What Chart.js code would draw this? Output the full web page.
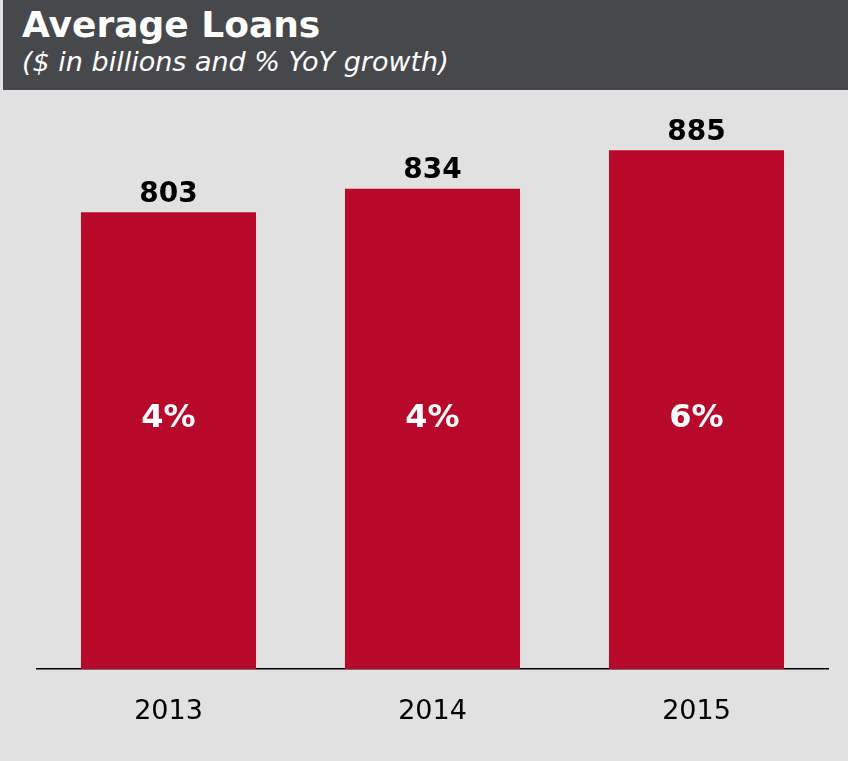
<!DOCTYPE html>
<html>
<head>
<meta charset="utf-8">
<script src="https://cdn.jsdelivr.net/npm/chart.js@4.4.1/dist/chart.umd.min.js"></script>
<style>
  html, body { margin: 0; padding: 0; }
  body { width: 848px; height: 761px; background: #e0e1e0; position: relative; overflow: hidden; font-family: "DejaVu Sans", Verdana, sans-serif; }
  #header { position: absolute; left: 3px; top: 0; width: 845px; height: 90px; background: #47484c; color: #fff; }
  #title { position: absolute; left: 19px; top: 3px; font-size: 36px; font-weight: bold; line-height: 44px; white-space: nowrap; }
  #subtitle { position: absolute; left: 19px; top: 45px; font-size: 27px; font-style: italic; line-height: 34px; white-space: nowrap; }
  #wrap { position: absolute; left: 0; top: 90px; width: 848px; height: 671px; }
</style>
</head>
<body>
<div id="header">
  <div id="title">Average Loans</div>
  <div id="subtitle">($ in billions and % YoY growth)</div>
</div>
<div id="wrap"><canvas id="c" width="848" height="671"></canvas></div>
<script>
const categories = ["2013", "2014", "2015"];
const loans = [803, 834, 885];
const growth = ["4%", "4%", "6%"];

const labelPlugin = {
  id: 'labels',
  afterDatasetsDraw(chart) {
    const ctx = chart.ctx;
    const meta = chart.getDatasetMeta(0);
    const area = chart.chartArea;
    ctx.save();
    ctx.textAlign = 'center';
    meta.data.forEach((bar, i) => {
      ctx.font = 'bold 28px "DejaVu Sans"';
      ctx.fillStyle = '#000';
      ctx.textBaseline = 'bottom';
      ctx.fillText(String(loans[i]), bar.x, bar.y - 4);
      ctx.font = 'bold 32px "DejaVu Sans"';
      ctx.fillStyle = '#fff';
      ctx.textBaseline = 'middle';
      ctx.fillText(growth[i], bar.x, area.top + (area.bottom - area.top) * 0.56);
    });
    ctx.restore();
  }
};

new Chart(document.getElementById('c'), {
  type: 'bar',
  data: {
    labels: categories,
    datasets: [{
      data: loans,
      backgroundColor: '#b8092a',
      borderWidth: 0,
      barPercentage: 0.663,
      categoryPercentage: 1.0
    }]
  },
  options: {
    responsive: false,
    animation: false,
    events: [],
    layout: { padding: { left: 36.5, right: 19.5, top: 11, bottom: 0 } },
    plugins: { legend: { display: false }, tooltip: { enabled: false } },
    scales: {
      x: {
        grid: { display: false, drawTicks: false },
        border: { display: true, color: '#000', width: 1.5 },
        ticks: { color: '#000', font: { family: 'DejaVu Sans', size: 27 }, padding: 27 },
        afterFit(scale) { scale.height = 92; }
      },
      y: {
        display: false,
        min: 200,
        max: 950
      }
    }
  },
  plugins: [labelPlugin]
});
</script>
</body>
</html>
